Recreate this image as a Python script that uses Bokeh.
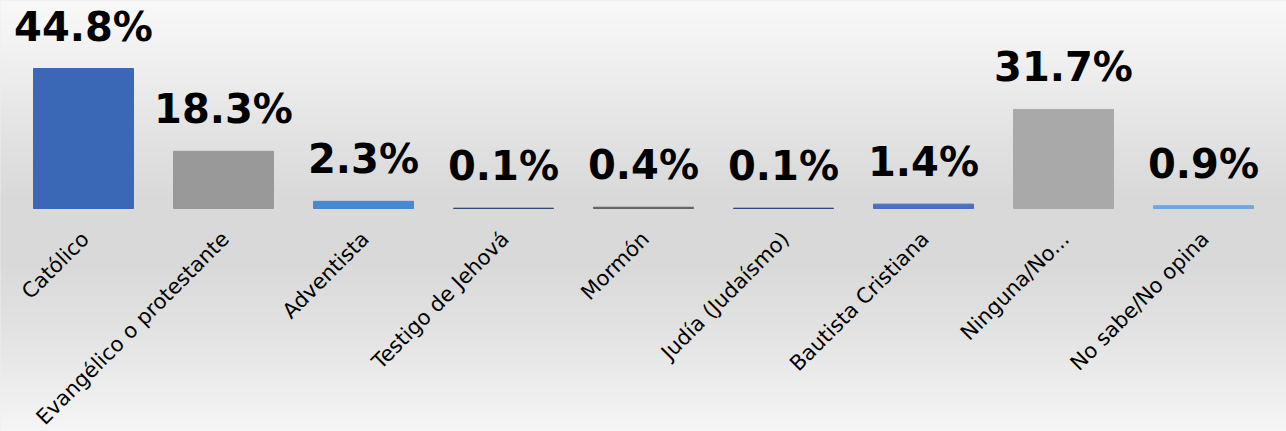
import numpy as np
from bokeh.plotting import figure
from bokeh.models import FactorRange, Range1d, ColumnDataSource
from bokeh.core.properties import value
from bokeh.embed import file_html
from bokeh.resources import INLINE

categories = ["Católico", "Evangélico o protestante", "Adventista", "Testigo de Jehová",
              "Mormón", "Judía (Judaísmo)", "Bautista Cristiana", "Ninguna/No...",
              "No sabe/No opina"]
values = [44.8, 18.3, 2.3, 0.1, 0.4, 0.1, 1.4, 31.7, 0.9]
bar_colors = ["#3B67B7", "#999999", "#4689D2", "#2E4B78", "#636363",
              "#2B4A78", "#4A6FC0", "#A9A9A9", "#6FA8DC"]
value_labels = [f"{v:.1f}%" for v in values]

W, H = 1286, 431
Y0, Y1 = -71.36, 66.56
p = figure(width=W, height=H, output_backend="svg", toolbar_location=None,
           x_range=FactorRange(factors=categories, range_padding=0.0929,
                               range_padding_units="absolute"),
           y_range=Range1d(Y0, Y1),
           min_border=0, min_border_left=0, min_border_right=0,
           min_border_top=0, min_border_bottom=0)
p.axis.visible = False
p.grid.visible = False
p.outline_line_color = None
p.background_fill_color = "#e0e0e0"
p.border_fill_color = "#ffffff"

# background gradient (decoration)
stops_y = [0, 60, 140, 200, 260, 330, 400, 431]
stops_c = [249, 240, 226, 217, 217, 227, 240, 246]
rows = np.arange(0, H)
g = np.interp(rows, stops_y, stops_c).astype(np.uint32)
img = np.empty((H, 2), dtype=np.uint32)
view = img.view(dtype=np.uint8).reshape((H, 2, 4))
view[:, :, 0] = g[:, None]
view[:, :, 1] = g[:, None]
view[:, :, 2] = g[:, None]
view[:, :, 3] = 255
img = img[::-1]
p.image_rgba(image=[img], x=-1, y=Y0, dw=11, dh=Y1 - Y0)

src = ColumnDataSource(dict(cat=categories, val=values, col=bar_colors,
                            lab=value_labels, zero=[0] * len(categories)))

p.vbar(x="cat", top="val", width=100 / 140, fill_color="col", line_color="col",
       line_width=1, source=src)

p.text(x="cat", y="val", text="lab", source=src, text_align="center",
       text_baseline="alphabetic", y_offset=-42, text_font=value("DejaVu Sans"),
       text_font_style="bold", text_font_size="40px", text_color="#000000")

p.text(x="cat", y="zero", text="cat", source=src, angle=np.pi / 4,
       text_align="right", text_baseline="middle", x_offset=2, y_offset=27,
       text_font=value("DejaVu Sans"), text_font_size="21px", text_color="#000000")

open("out.html", "w").write(file_html(p, INLINE))
